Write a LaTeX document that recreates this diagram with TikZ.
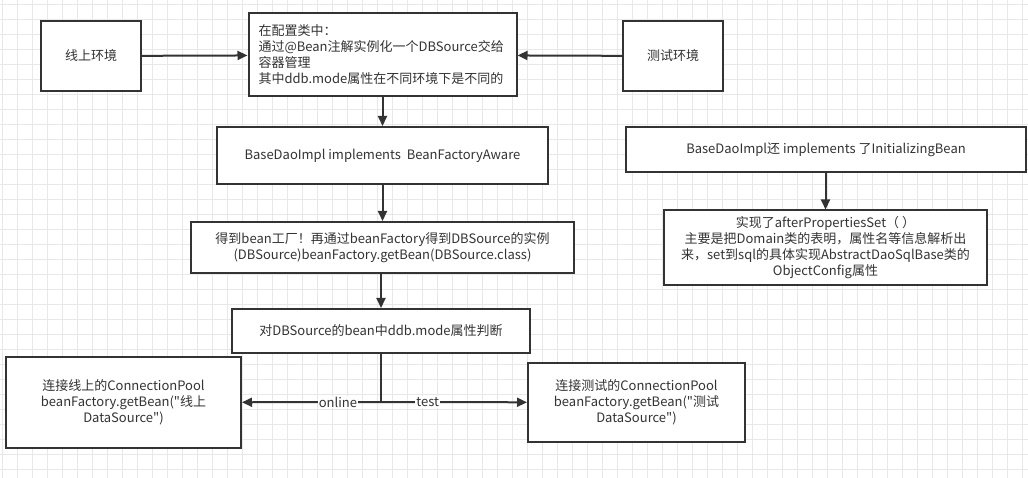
\documentclass[tikz,border=0pt]{standalone}
\usepackage{fontspec}
\setmainfont{Noto Sans CJK SC}[Ligatures=TeXOff]
\usepackage{xcolor}
\usetikzlibrary{positioning, arrows.meta}

\definecolor{linec}{HTML}{333333}
\definecolor{gridc}{HTML}{E8E8E8}

\begin{document}
\begin{tikzpicture}[
  x=1pt, y=-1pt,
  font=\fontsize{13}{16}\selectfont,
  box/.style={draw=linec, line width=2pt, fill=white, text=linec,
              align=center, inner sep=3pt},
  arr/.style={-{Triangle[length=10pt, width=9pt]}, line width=2pt, draw=linec},
  lbl/.style={fill=white, text=linec, inner sep=1pt}
]
\useasboundingbox (0,0) rectangle (1028,478);
\fill[white] (0,0) rectangle (1028,478);
% background grid
\foreach \gx in {2.7,17.7,...,1028} \draw[gridc, line width=0.8pt] (\gx,0) -- (\gx,478);
\foreach \gy in {4.3,19.3,...,478} \draw[gridc, line width=0.8pt] (0,\gy) -- (1028,\gy);
% top row
\node[box, minimum width=100pt, minimum height=70pt] (online) at (91,56) {线上环境};
\node[box, minimum width=268pt, minimum height=83pt, align=left,
      text width=248pt, inner xsep=10pt] (config) at (382.5,55)
  {在配置类中：\\通过@Bean注解实例化一个DBSource交给\\容器管理\\其中ddb.mode属性在不同环境下是不同的};
\node[box, minimum width=100pt, minimum height=70pt] (testenv) at (673,56) {测试环境};
\draw[arr] (online) -- (config);
\draw[arr] (testenv) -- (config);
% main column
\node[box, minimum width=331pt, minimum height=57pt] (aware) at (382.5,155.5)
  {BaseDaoImpl implements \ BeanFactoryAware};
\node[box, minimum width=383pt, minimum height=51pt] (getbean) at (382.5,247.5)
  {得到bean工厂！再通过beanFactory得到DBSource的实例\\(DBSource)beanFactory.getBean(DBSource.class)};
\node[box, minimum width=298pt, minimum height=44pt] (judge) at (381,331)
  {对DBSource的bean中ddb.mode属性判断};
\draw[arr] (config) -- (aware);
\draw[arr] (aware) -- (getbean);
\draw[arr] (getbean.south -| judge.north) -- (judge);
% branches
\node[box, minimum width=235pt, minimum height=91pt] (connonline) at (123.5,402.5)
  {连接线上的ConnectionPool\\beanFactory.getBean("线上\\DataSource")};
\node[box, minimum width=217pt, minimum height=79pt] (conntest) at (636.5,402.5)
  {连接测试的ConnectionPool\\beanFactory.getBean("测试\\DataSource")};
\coordinate (split) at (381,402);
\draw[line width=2pt, draw=linec] (judge) -- (split);
\draw[arr] (split) -- node[lbl, pos=0.31] {online} (connonline);
\draw[arr] (split) -- node[lbl, pos=0.32] {test} (conntest);
% right column
\node[box, minimum width=400pt, minimum height=45pt] (initbean) at (826,149.5)
  {BaseDaoImpl还 implements 了InitializingBean};
\node[box, minimum width=323pt, minimum height=75pt] (afterprop) at (825.5,248)
  {实现了afterPropertiesSet（ ）\\主要是把Domain类的表明，属性名等信息解析出\\来，set到sql的具体实现AbstractDaoSqlBase类的\\ObjectConfig属性};
\draw[arr] (initbean.south -| afterprop.north) -- (afterprop);
\end{tikzpicture}
\end{document}
